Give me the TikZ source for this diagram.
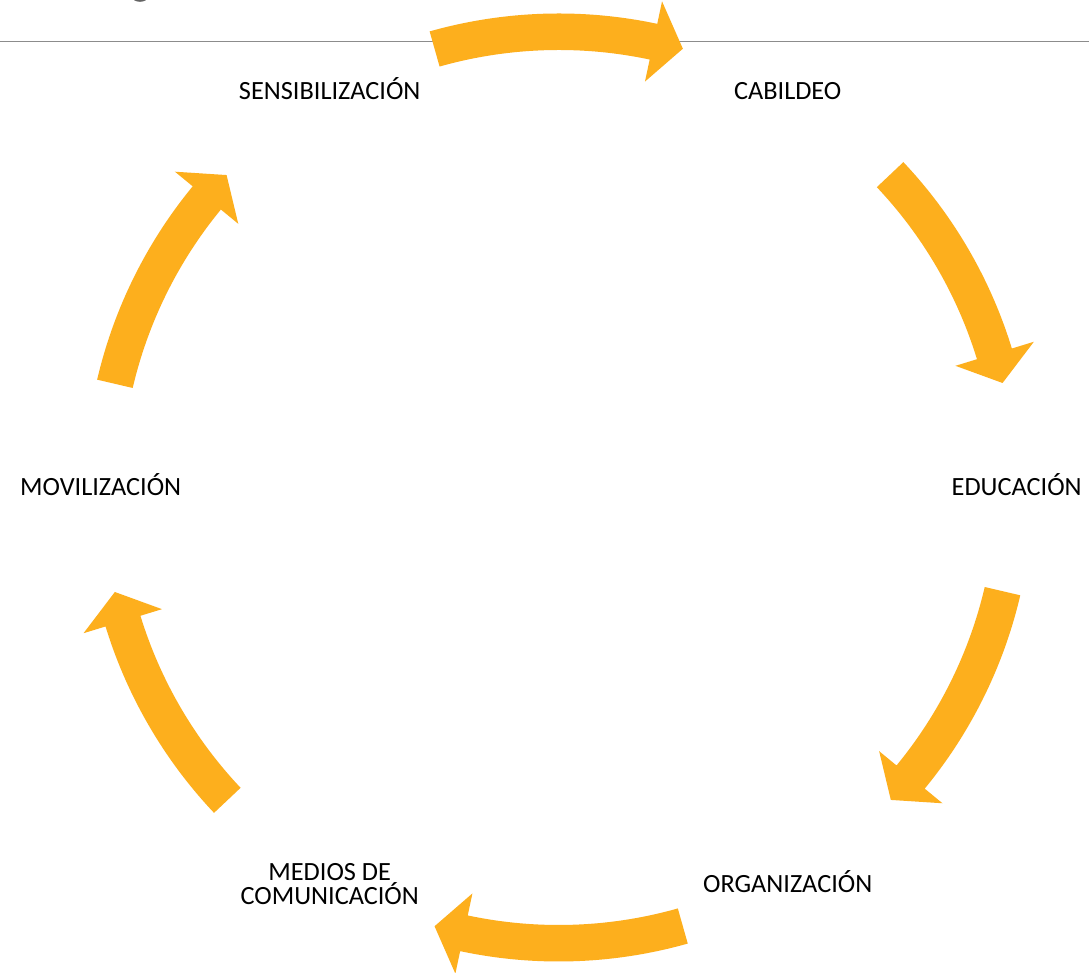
\documentclass[tikz,border=0pt]{standalone}
\usepackage{fontspec}
\setmainfont{Carlito}
\definecolor{arrowgold}{RGB}{253,175,29}
\definecolor{rulegray}{RGB}{140,140,140}
\definecolor{glyphgray}{RGB}{100,100,100}
\newcommand\drawcyclearrow[2]{% #1 tail angle, #2 tip angle (clockwise)
  \pgfmathsetmacro\baseang{#2+3.8}
  \fill[cyclearrow] (#1:474pt) arc[start angle=#1, end angle=\baseang, radius=474pt]
    -- (\baseang:497pt) -- (#2:456pt) -- (\baseang:415pt) -- (\baseang:437.5pt)
    arc[start angle=\baseang, end angle=#1, radius=437.5pt] -- cycle;
}
\begin{document}
\begin{tikzpicture}[x=1pt,y=1pt,
  cyclearrow/.style={fill=arrowgold, draw=none},
  lbl/.style={font=\fontsize{26.3}{23.7}\selectfont, text height=16.9pt, text depth=0pt, inner sep=0pt, anchor=center},
  lbltwo/.style={font=\fontsize{26.3}{23.7}\selectfont, align=center, inner sep=0pt, anchor=center}]
\useasboundingbox (0,0) rectangle (1089,973);
\fill[white] (0,0) rectangle (1089,973);
% cut-off glyph of a title above the picture
\fill[glyphgray] (140,975.5) ellipse[x radius=7.5, y radius=4.3];
% rule line
\draw[rulegray, line width=1.5pt] (0,931.5) -- (1089,931.5);
\begin{scope}[shift={(558.7,485.5)}]
  \drawcyclearrow{105.8}{74.2}
  \drawcyclearrow{43.35}{13.25}
  \drawcyclearrow{-13.15}{-43.25}
  \drawcyclearrow{-74.2}{-105.8}
  \drawcyclearrow{-136.65}{-166.75}
  \drawcyclearrow{166.85}{136.75}
  \node[lbl] (sens) at (120:458pt) {SENSIBILIZACIÓN};
  \node[lbl] (cab) at (60:458pt) {CABILDEO};
  \node[lbl] (edu) at (0:458pt) {EDUCACIÓN};
  \node[lbl] (org) at (-60:458pt) {ORGANIZACIÓN};
  \node[lbltwo] (med) at (-120:458pt) {MEDIOS DE\\COMUNICACIÓN};
  \node[lbl] (mov) at (180:458pt) {MOVILIZACIÓN};
\end{scope}
\end{tikzpicture}
\end{document}
